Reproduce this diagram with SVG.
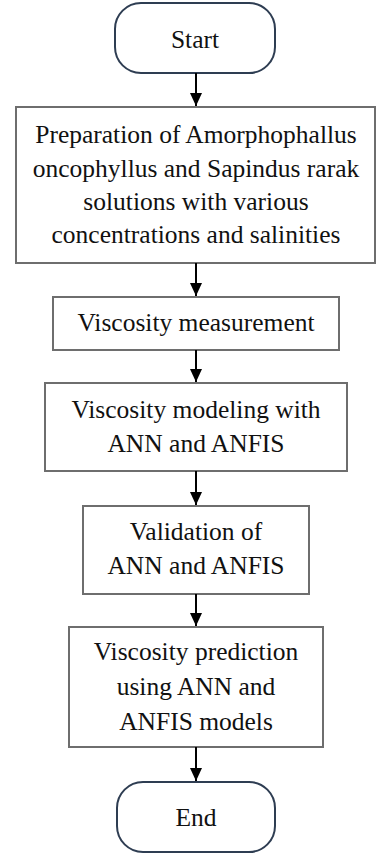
<svg xmlns="http://www.w3.org/2000/svg" width="377" height="854" viewBox="0 0 377 854">
<style>
.bg{fill:#ffffff}
.box{fill:#ffffff;stroke:#6e6e6e;stroke-width:2}
.term{fill:#ffffff;stroke:#2e3d52;stroke-width:2}
.t{font-size:25.5px;fill:#111111;text-anchor:middle}
.c{stroke:#000000;stroke-width:2;fill:none}
</style>
<defs>
<marker id="ah" markerWidth="13" markerHeight="12" refX="13" refY="6" orient="auto" markerUnits="userSpaceOnUse" viewBox="0 0 13 12">
<path d="M0,0 L13,6 L0,12 Z" fill="#000000"/>
</marker>
</defs>
<rect class="bg" x="0" y="0" width="377" height="854"/>
<g font-family="Liberation Serif, Tinos, Noto Serif CJK SC, serif">
<g id="start">
<rect class="term" x="115" y="3" width="160" height="70" rx="26" ry="26"/>
<text class="t" x="195" y="48">Start</text>
</g>
<g id="prep">
<rect class="box" x="16" y="107" width="359" height="156"/>
<text class="t" x="196" y="143">Preparation of Amorphophallus</text>
<text class="t" x="196" y="177">oncophyllus and Sapindus rarak</text>
<text class="t" x="196" y="210">solutions with various</text>
<text class="t" x="196" y="243">concentrations and salinities</text>
</g>
<g id="measure">
<rect class="box" x="53" y="297" width="286" height="53"/>
<text class="t" x="196" y="331">Viscosity measurement</text>
</g>
<g id="model">
<rect class="box" x="45" y="383" width="302" height="88"/>
<text class="t" x="196" y="418">Viscosity modeling with</text>
<text class="t" x="196" y="452">ANN and ANFIS</text>
</g>
<g id="validate">
<rect class="box" x="83" y="506" width="226" height="88"/>
<text class="t" x="196" y="540">Validation of</text>
<text class="t" x="196" y="574">ANN and ANFIS</text>
</g>
<g id="predict">
<rect class="box" x="69" y="627" width="254" height="120"/>
<text class="t" x="196" y="660">Viscosity prediction</text>
<text class="t" x="196" y="695">using ANN and</text>
<text class="t" x="196" y="730">ANFIS models</text>
</g>
<g id="end">
<rect class="term" x="117" y="782" width="158" height="70" rx="26" ry="26"/>
<text class="t" x="196" y="826">End</text>
</g>
</g>
<g id="connectors">
<line class="c" x1="196" y1="73" x2="196" y2="106" marker-end="url(#ah)"/>
<line class="c" x1="196" y1="263" x2="196" y2="296" marker-end="url(#ah)"/>
<line class="c" x1="196" y1="350" x2="196" y2="382" marker-end="url(#ah)"/>
<line class="c" x1="196" y1="471" x2="196" y2="505" marker-end="url(#ah)"/>
<line class="c" x1="196" y1="594" x2="196" y2="626" marker-end="url(#ah)"/>
<line class="c" x1="196" y1="747" x2="196" y2="781" marker-end="url(#ah)"/>
</g>
</svg>
